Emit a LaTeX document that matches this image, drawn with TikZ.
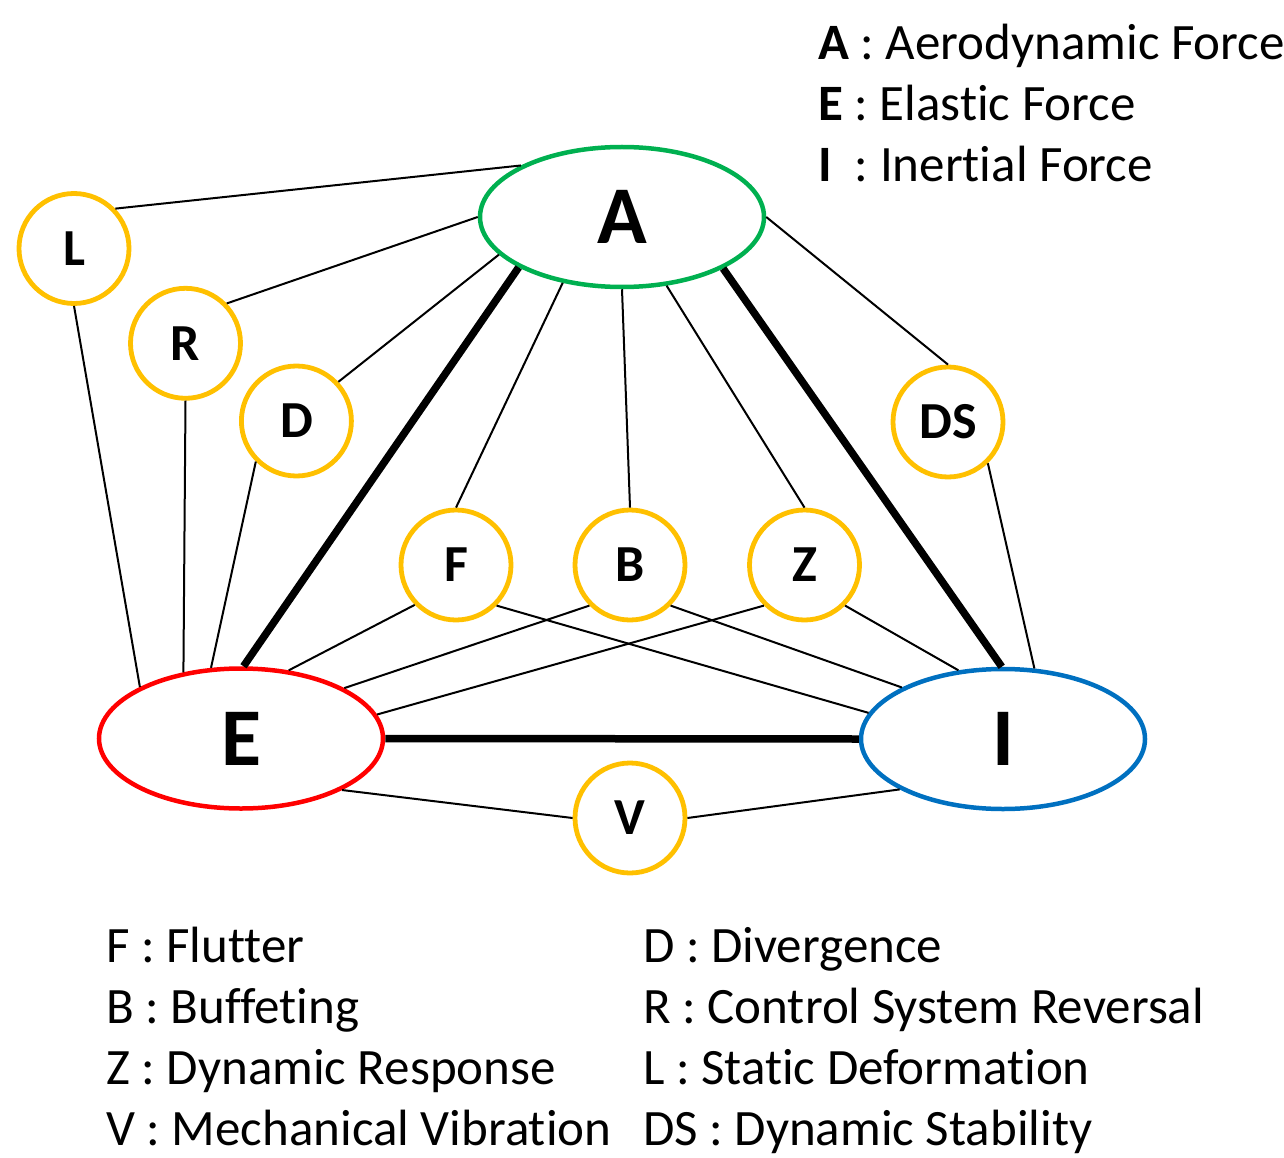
\documentclass[tikz,border=0pt]{standalone}
\usepackage{fontspec}
\setmainfont{Carlito}[Ligatures=NoCommon]
\usetikzlibrary{shapes.geometric}
\definecolor{cA}{HTML}{00B050}
\definecolor{cE}{HTML}{FF0000}
\definecolor{cI}{HTML}{0070C0}
\definecolor{cY}{HTML}{FFC000}
\begin{document}
\begin{tikzpicture}[x=1pt,y=-1pt,
  force/.style={ellipse, draw, line width=4.5pt, minimum width=284pt, minimum height=140pt, inner sep=0pt, font=\fontsize{82}{90}\selectfont\bfseries},
  phen/.style={circle, draw=cY, line width=4.8pt, minimum size=110pt, inner sep=0pt, font=\fontsize{52}{60}\selectfont\bfseries},
  thinlink/.style={line width=2pt},
  thicklink/.style={line width=7.5pt},
  legend/.style={anchor=base west, inner sep=0pt, font=\fontsize{51}{60}\selectfont}]
\useasboundingbox (0,0) rectangle (1284,1158);
% main forces
\node[force, draw=cA] (A) at (622,217) {A};
\node[force, draw=cE] (E) at (241,738.5) {E};
\node[force, draw=cI] (I) at (1003,739) {I};
% phenomena
\node[phen] (L) at (74,248.5) {L};
\node[phen] (R) at (185.5,343.3) {R};
\node[phen] (D) at (296.4,421) {D};
\node[phen] (DS) at (948,422) {DS};
\node[phen] (F) at (456,565) {F};
\node[phen] (B) at (630,565) {B};
\node[phen] (Z) at (804.5,565) {Z};
\node[phen] (V) at (630,818) {V};
% thick triangle
\draw[thicklink] (A.206.9) -- (E.88.2);
\draw[thicklink] (A.333.4) -- (I.91.6);
\draw[thicklink] (E.east) -- (I.west);
% thin links
\draw[thinlink] (L.44.2) -- (A.153.6);
\draw[thinlink] (L.270) -- (E.153.3);
\draw[thinlink] (R.44.4) -- (A.180);
\draw[thinlink] (R.270) -- (E.131.4);
\draw[thinlink] (D.43.3) -- (A.197.4);
\draw[thinlink] (D.225.9) -- (E.113.8);
\draw[thinlink] (F.90) -- (A.228.4);
\draw[thinlink] (F.224) -- (E.55.8);
\draw[thinlink] (F.315) -- (I.169.1);
\draw[thinlink] (B.90) -- (A.270.8);
\draw[thinlink] (B.225) -- (E.26.3);
\draw[thinlink] (B.315) -- (I.153.4);
\draw[thinlink] (Z.90) -- (A.303.5);
\draw[thinlink] (Z.225) -- (E.10.8);
\draw[thinlink] (Z.315) -- (I.123.8);
\draw[thinlink] (DS.90) -- (A.0);
\draw[thinlink] (DS.314) -- (I.66.6);
\draw[thinlink] (V.180) -- (E.333.6);
\draw[thinlink] (V.0) -- (I.206.3);
% legends
\node[legend] (la) at (818,60) {\textbf{A} : Aerodynamic Force};
\node[legend] (le) at (818,121) {\textbf{E} : Elastic Force};
\node[legend] (li) at (818,182) {\textbf{I}~~: Inertial Force};
\node[legend] (lf) at (106,962) {F : Flutter};
\node[legend] (lb) at (106,1023) {B : Buffeting};
\node[legend] (lz) at (106,1084) {Z : Dynamic Response};
\node[legend] (lv) at (106,1145) {V : Mechanical Vibration};
\node[legend] (ld) at (643,962) {D : Divergence};
\node[legend] (lr) at (643,1023) {R : Control System Reversal};
\node[legend] (ll) at (643,1084) {L : Static Deformation};
\node[legend] (lds) at (643,1145) {DS : Dynamic Stability};
\end{tikzpicture}
\end{document}
